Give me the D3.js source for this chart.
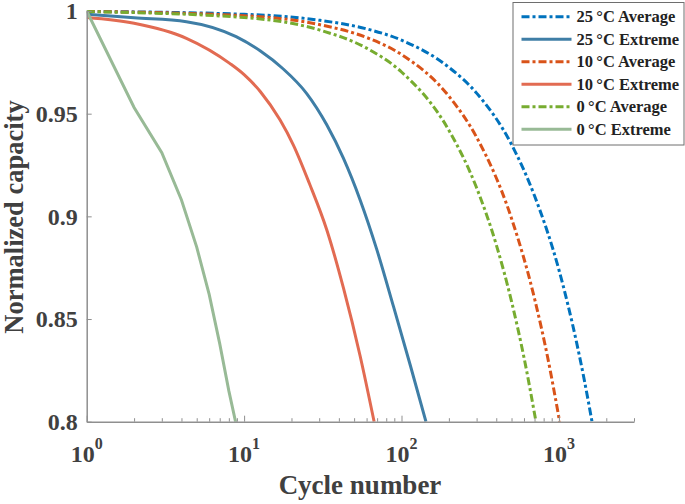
<!DOCTYPE html>
<html>
<head>
<meta charset="utf-8">
<script src="https://cdn.jsdelivr.net/npm/d3@7"></script>
<style>
  body { margin: 0; background: #fff; }
  svg { display: block; font-family: "Liberation Serif", "Times New Roman", serif; font-weight: bold; }
</style>
</head>
<body>
<div id="chart"><svg></svg></div>
<script>
const width = 685;
const height = 504;

// Data (cycle number, normalized capacity)
const avg25Cycles = [1, 10, 30, 60, 100, 200, 300, 500, 700, 1000, 1300, 1450, 1623];
const avg25Cap    = [0.9998, 0.9984, 0.9955, 0.9913, 0.9858, 0.9726, 0.960, 0.935, 0.910, 0.874, 0.838, 0.8203, 0.8];

const ext25Cycles = [1, 2, 4.3, 8.9, 12.7, 17.6, 25, 33.5, 42.8, 54.6, 69.7, 89, 113.6, 143];
const ext25Cap    = [0.9984, 0.9967, 0.9948, 0.9875, 0.9805, 0.972, 0.9598, 0.9446, 0.9282, 0.908, 0.8838, 0.856, 0.8276, 0.8];

const avg10Cycles = [1, 10, 30, 60, 100, 200, 300, 500, 700, 850, 1011];
const avg10Cap    = [0.9998, 0.9977, 0.9934, 0.9871, 0.9788, 0.9585, 0.9385, 0.899, 0.860, 0.831, 0.8];

const ext10Cycles = [1, 2, 4.3, 8.1, 10, 12.7, 16.9, 20.6, 26, 33.5, 42.8, 54.6, 67];
const ext10Cap    = [0.9968, 0.994, 0.9867, 0.9745, 0.969, 0.9607, 0.947, 0.9346, 0.916, 0.8935, 0.865, 0.832, 0.8];

const avg0Cycles = [1, 10, 30, 60, 100, 200, 300, 400, 500, 600, 715];
const avg0Cap    = [0.9997, 0.9968, 0.9908, 0.9819, 0.9703, 0.9419, 0.9139, 0.8862, 0.8586, 0.8313, 0.8];

const ext0Cycles = [1, 2, 3, 4, 5, 6, 7, 8, 9];
const ext0Cap    = [1, 0.953, 0.931, 0.908, 0.885, 0.862, 0.838, 0.815, 0.797];

const seriesNames = ["25\u2009°C Average", "25\u2009°C Extreme", "10\u2009°C Average", "10\u2009°C Extreme", "0\u2009°C Average", "0\u2009°C Extreme"];
const xMajorTicks = [1, 10, 100, 1000];
const xTickExponents = ["0", "1", "2", "3"];
const yTicks = [0.8, 0.85, 0.9, 0.95, 1];
const yTickLabels = ["0.8", "0.85", "0.9", "0.95", "1"];

const series = [
  { name: seriesNames[0], cycles: avg25Cycles, cap: avg25Cap, color: "#0072bd", dash: "8,3,3,3" },
  { name: seriesNames[1], cycles: ext25Cycles, cap: ext25Cap, color: "#3f7ea6", dash: null },
  { name: seriesNames[2], cycles: avg10Cycles, cap: avg10Cap, color: "#d95319", dash: "8,3,3,3" },
  { name: seriesNames[3], cycles: ext10Cycles, cap: ext10Cap, color: "#e26b52", dash: null },
  { name: seriesNames[4], cycles: avg0Cycles, cap: avg0Cap, color: "#77ac30", dash: "8,3,3,3" },
  { name: seriesNames[5], cycles: ext0Cycles, cap: ext0Cap, color: "#98ba96", dash: null, linear: true }
];

const svg = d3.select("#chart svg").attr("width", width).attr("height", height);

const margin = { left: 86.7, right: 634, top: 11, bottom: 421.7 };
const x = d3.scaleLog().domain([1, 3000]).range([margin.left, margin.right]);
const y = d3.scaleLinear().domain([0.8, 1]).range([margin.bottom, margin.top]);

const axisColor = "#8f8f8f";
const textColor = "#404040";

svg.append("clipPath").attr("id", "plotClip")
  .append("rect")
  .attr("x", margin.left).attr("y", margin.top - 3)
  .attr("width", margin.right - margin.left)
  .attr("height", margin.bottom - margin.top + 3);

// Curves
const plot = svg.append("g").attr("clip-path", "url(#plotClip)");
series.forEach(s => {
  const pts = s.cycles.map((c, i) => [c, s.cap[i]]);
  const line = d3.line()
    .x(d => x(d[0]))
    .y(d => y(d[1]))
    .curve(s.linear ? d3.curveLinear : d3.curveMonotoneX);
  plot.append("path")
    .datum(pts)
    .attr("d", line)
    .attr("fill", "none")
    .attr("stroke", s.color)
    .attr("stroke-width", 3)
    .attr("stroke-dasharray", s.dash);
});

// X axis: major ticks with superscript labels, minor ticks without
const minorTicks = [];
[1, 10, 100, 1000].forEach(base => {
  for (let k = 2; k <= 9; k++) if (base * k <= 3000) minorTicks.push(base * k);
});

const xMinor = svg.append("g")
  .attr("transform", `translate(0,${margin.bottom})`)
  .call(d3.axisBottom(x).tickValues(minorTicks).tickSize(-3.5).tickFormat(""));
xMinor.select(".domain").remove();
xMinor.selectAll("line").attr("stroke", axisColor);

const xAxis = svg.append("g")
  .attr("transform", `translate(0,${margin.bottom})`)
  .call(d3.axisBottom(x).tickValues(xMajorTicks).tickSizeInner(-6).tickSizeOuter(0).tickFormat(""));
xAxis.select(".domain").attr("stroke", axisColor).attr("stroke-width", 1.5);
xAxis.selectAll("line").attr("stroke", axisColor);

xMajorTicks.forEach((t, i) => {
  const label = svg.append("text")
    .attr("x", x(t))
    .attr("y", 462)
    .attr("text-anchor", "middle")
    .attr("fill", textColor)
    .attr("font-size", 24);
  label.append("tspan").text("10");
  label.append("tspan").attr("dy", -13).attr("font-size", 16).text(xTickExponents[i]);
});

// Y axis
const yAxis = svg.append("g")
  .attr("transform", `translate(${margin.left},0)`)
  .call(d3.axisLeft(y).tickValues(yTicks).tickSizeInner(-5).tickSizeOuter(0).tickPadding(9)
    .tickFormat((d, i) => yTickLabels[i]));
yAxis.select(".domain").attr("stroke", axisColor).attr("stroke-width", 1.5);
yAxis.selectAll("line").attr("stroke", axisColor);
yAxis.selectAll("text")
  .attr("fill", textColor)
  .attr("font-size", 24)
  .attr("font-family", "Liberation Serif, serif")
  .attr("font-weight", "bold");

// Axis titles
svg.append("text")
  .attr("x", 360)
  .attr("y", 494)
  .attr("text-anchor", "middle")
  .attr("fill", textColor)
  .attr("font-size", 27)
  .text("Cycle number");

svg.append("text")
  .attr("transform", `translate(23,217) rotate(-90)`)
  .attr("text-anchor", "middle")
  .attr("fill", textColor)
  .attr("font-size", 26.5)
  .text("Normalized capacity");

// Legend
const legend = svg.append("g");
legend.append("rect")
  .attr("x", 513).attr("y", 2.5)
  .attr("width", 171).attr("height", 142.5)
  .attr("fill", "#fff")
  .attr("stroke", "#6e6e6e")
  .attr("stroke-width", 1);

series.forEach((s, i) => {
  const cy = 16.7 + i * 22.5;
  legend.append("line")
    .attr("x1", 521.5).attr("x2", 571.5)
    .attr("y1", cy).attr("y2", cy)
    .attr("stroke", s.color)
    .attr("stroke-width", 3)
    .attr("stroke-dasharray", s.dash);
  legend.append("text")
    .attr("x", 576.5)
    .attr("y", cy)
    .attr("dy", "0.35em")
    .attr("fill", "#222")
    .attr("font-size", 16.5)
    .text(s.name);
});
</script>
</body>
</html>
